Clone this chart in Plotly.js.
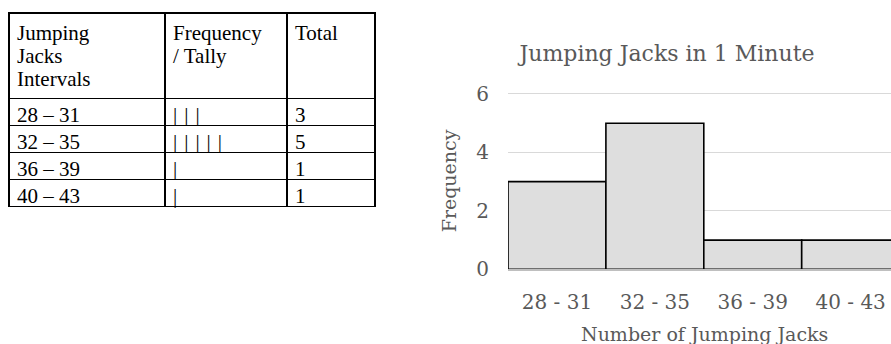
<!DOCTYPE html>
<html>
<head>
<meta charset="utf-8">
<script src="https://cdn.plot.ly/plotly-3.0.1.min.js"></script>
<style>
html,body{margin:0;padding:0;background:#fff;}
#chart{width:891px;height:344px;}
</style>
</head>
<body>
<div id="chart"></div>
<script>
// ---- data ----
const tableHeaders = ['Jumping<br>Jacks<br>Intervals', 'Frequency<br>/ Tally', 'Total'];
const intervals = ['28 \u2013 31', '32 \u2013 35', '36 \u2013 39', '40 \u2013 43'];
const totals = [3, 5, 1, 1];
const categories = ['28 - 31', '32 - 35', '36 - 39', '40 - 43'];
const frequencies = [3, 5, 1, 1];
const chartTitle = 'Jumping Jacks in 1 Minute';
const xTitle = 'Number of Jumping Jacks';
const yTitle = 'Frequency';

const tallies = totals.map(n => Array(n).fill('|').join('\u2004'));

const W = 891, H = 344;
const gray = '#595959';
const serif = 'DejaVu Serif, serif';
const tfont = 'Liberation Serif, Times New Roman, serif';
// header: 21px glyphs on a tighter line pitch (multi-line path of the table renderer)
const headerText = s => {
  const parts = String(s).split('<br>');
  if (parts.length < 2) parts.push('');
  return parts.map(t => t ? '<span style="font-size:21px">' + t + '</span>' : '').join('<br>');
};

const tableTrace = {
  type: 'table',
  domain: {x: [9 / W, 375 / W], y: [1 - 260 / H, 1 - 13 / H]},
  columnwidth: [156, 122, 88],
  header: {
    values: tableHeaders.map(headerText),
    align: 'left',
    height: 82,
    fill: {color: '#ffffff'},
    line: {color: '#000000', width: 1.3},
    font: {family: tfont, size: 17.5, color: '#000000'}
  },
  cells: {
    values: [intervals, tallies, totals],
    align: 'left',
    height: 27,
    fill: {color: '#ffffff'},
    line: {color: '#000000', width: 1.3},
    font: {family: tfont, size: 21, color: '#000000'}
  }
};

const barTrace = {
  type: 'bar',
  x: categories,
  y: frequencies,
  xaxis: 'x', yaxis: 'y',
  marker: {color: '#dedede', line: {color: '#000000', width: 1.6}},
  hoverinfo: 'skip'
};

const x0 = 508, x1 = 891, yBot = 269.3;
const unit = 97.9, yUnit = 29.22, yMax = 6.05;
const yTop = yBot - yMax * yUnit;

const layout = {
  width: W, height: H,
  margin: {l: 0, r: 0, t: 0, b: 0},
  paper_bgcolor: '#ffffff', plot_bgcolor: '#ffffff',
  showlegend: false,
  bargap: 0,
  title: {
    text: chartTitle,
    font: {family: serif, size: 22, color: gray},
    x: 667 / W, xanchor: 'center', xref: 'container',
    y: 1 - 53 / H, yanchor: 'middle', yref: 'container'
  },
  xaxis: {
    domain: [x0 / W, x1 / W],
    range: [-0.5, -0.5 + (x1 - x0) / unit],
    type: 'category',
    showgrid: false,
    showline: true, linecolor: '#bfbfbf', linewidth: 1.5, layer: 'above traces',
    ticks: '',
    ticklabelstandoff: 14,
    tickfont: {family: serif, size: 20, color: gray},
    automargin: false,
    fixedrange: true
  },
  yaxis: {
    domain: [1 - yBot / H, 1 - yTop / H],
    range: [0, yMax],
    tickvals: [0, 2, 4, 6],
    showgrid: true, gridcolor: '#d9d9d9', gridwidth: 1,
    zeroline: false,
    showline: false,
    ticks: '',
    ticklabelstandoff: 18,
    tickfont: {family: serif, size: 20, color: gray},
    title: {text: yTitle, font: {family: serif, size: 19, color: gray}, standoff: 14},
    automargin: false,
    fixedrange: true
  },
  annotations: [{
    text: xTitle,
    xref: 'paper', yref: 'paper',
    x: 704 / W, y: 1 - 334 / H,
    xanchor: 'center', yanchor: 'middle',
    showarrow: false,
    font: {family: serif, size: 19, color: gray}
  }]
};

Plotly.newPlot('chart', [tableTrace, barTrace], layout, {displayModeBar: false, staticPlot: true});
</script>
</body>
</html>
